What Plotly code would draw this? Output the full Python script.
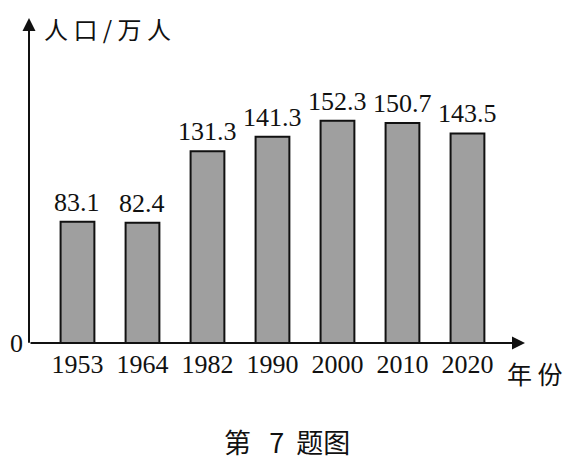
import plotly.graph_objects as go

years = ["1953", "1964", "1982", "1990", "2000", "2010", "2020"]
population = [83.1, 82.4, 131.3, 141.3, 152.3, 150.7, 143.5]
value_labels = ["83.1", "82.4", "131.3", "141.3", "152.3", "150.7", "143.5"]

y_title = "人 口 / 万 人"
x_title = "年 份"
caption = "第   7  题图"

XMIN, XMAX = -0.746, 6.885
YMAX = 222.6
serif = "Liberation Serif, Times New Roman, serif"
cjk = "Noto Sans CJK SC, sans-serif"
W, H = 576, 465
PL, PR, PT, PB = 29, 51, 18, 122

fig = go.Figure()
fig.add_trace(go.Bar(
    x=years, y=population, width=0.52,
    marker=dict(color="#9f9f9f", line=dict(color="#111111", width=2)),
    hoverinfo="skip",
))

annotations = []
for i, (v, t) in enumerate(zip(population, value_labels)):
    annotations.append(dict(x=i, y=v, xref="x", yref="y", text=t, showarrow=False,
                            yanchor="bottom", yshift=3,
                            font=dict(family=serif, size=26, color="#111111")))
# axes arrows
annotations.append(dict(x=XMIN, y=YMAX, ax=XMIN, ay=-0.8, xref="x", yref="y",
                        axref="x", ayref="y", text="", showarrow=True,
                        arrowhead=2, arrowsize=1.3, arrowwidth=2, arrowcolor="#111111"))
annotations.append(dict(x=XMAX, y=0, ax=XMIN, ay=0, xref="x", yref="y",
                        axref="x", ayref="y", text="", showarrow=True,
                        arrowhead=2, arrowsize=1.3, arrowwidth=2, arrowcolor="#111111"))


def px(xp, yp):
    pw, ph = W - PL - PR, H - PT - PB
    return (xp - PL) / pw, (H - PB - yp) / ph


x0, y0 = px(42, 28)
annotations.append(dict(x=x0, y=y0, xref="paper", yref="paper", text=y_title,
                        showarrow=False, xanchor="left", yanchor="middle",
                        font=dict(family=cjk, size=24, color="#111111")))
x1, y1 = px(505, 373)
annotations.append(dict(x=x1, y=y1, xref="paper", yref="paper", text=x_title,
                        showarrow=False, xanchor="left", yanchor="middle",
                        font=dict(family=cjk, size=25, color="#111111")))
x2, y2 = px(287, 441)
annotations.append(dict(x=x2, y=y2, xref="paper", yref="paper", text=caption,
                        showarrow=False, xanchor="center", yanchor="middle",
                        font=dict(family=cjk, size=27, color="#111111")))

fig.update_layout(
    width=W, height=H,
    margin=dict(l=PL, r=PR, t=PT, b=PB),
    paper_bgcolor="white", plot_bgcolor="white",
    showlegend=False,
    xaxis=dict(type="category", categoryorder="array", categoryarray=years,
               range=[XMIN, XMAX], showline=False, showgrid=False, zeroline=False,
               ticks="", tickfont=dict(family=serif, size=26, color="#111111"),
               ticklabelstandoff=3, automargin=False, fixedrange=True),
    yaxis=dict(range=[0, YMAX], showline=False, showgrid=False, zeroline=False,
               tickvals=[0], ticktext=["0"], ticks="",
               tickfont=dict(family=serif, size=26, color="#111111"),
               ticklabelstandoff=5, automargin=False, fixedrange=True),
    annotations=annotations,
)

fig.write_html("out.html", config={"displayModeBar": False},
               post_script="document.body.style.margin='0';")
